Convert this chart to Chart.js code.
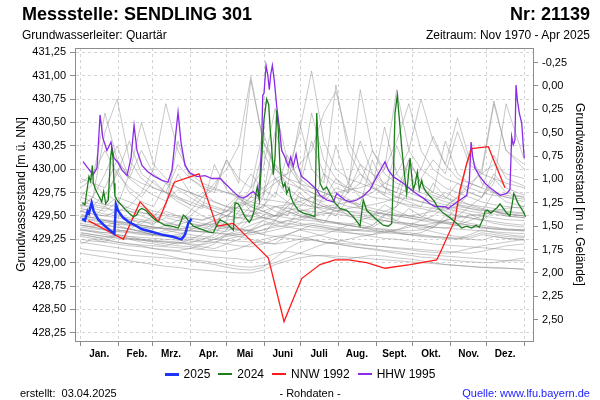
<!DOCTYPE html>
<html><head><meta charset="utf-8">
<script src="https://cdn.jsdelivr.net/npm/chart.js@4/dist/chart.umd.min.js"></script>
<style>
body{margin:0;width:600px;height:400px;position:relative;font-family:"Liberation Sans",Arial,sans-serif;background:#fff;overflow:hidden}
#c{position:absolute;left:0;top:0}
.t{position:absolute;white-space:nowrap;color:#000;line-height:1}
#legend{position:absolute;left:0;width:600px;top:367px;display:flex;justify-content:center;gap:8px;font-size:12px;line-height:14px;color:#000}
#legend .it{display:flex;align-items:center}
#legend .sw{display:inline-block;width:14px;margin-right:5px}
</style></head><body>
<canvas id="c" width="600" height="400"></canvas>
<div class="t" style="left:22px;top:5px;font-size:18px;font-weight:bold">Messstelle: SENDLING 301</div>
<div class="t" style="right:10px;top:5px;font-size:18px;font-weight:bold">Nr: 21139</div>
<div class="t" style="left:22px;top:29px;font-size:12px">Grundwasserleiter: Quartär</div>
<div class="t" style="right:10px;top:29px;font-size:12px">Zeitraum: Nov 1970 - Apr 2025</div>
<div id="legend"><span class="it"><span class="sw" style="height:3px;background:#1f35ff"></span>2025</span><span class="it"><span class="sw" style="height:1.5px;background:#1b7d1b"></span>2024</span><span class="it"><span class="sw" style="height:1.5px;background:#ff1a1a"></span>NNW 1992</span><span class="it"><span class="sw" style="height:1.5px;background:#8b2be8"></span>HHW 1995</span></div>
<div class="t" style="left:20px;top:388px;font-size:11px">erstellt:&nbsp;&nbsp;03.04.2025</div>
<div class="t" style="left:20px;width:580px;text-align:center;top:388px;font-size:11px">- Rohdaten -</div>
<div class="t" style="right:10px;top:388px;font-size:11px;color:#1a1aff">Quelle: www.lfu.bayern.de</div>
<script>
// ---- axis definitions ----
const monthNames = ['Jan.','Feb.','Mrz.','Apr.','Mai','Juni','Juli','Aug.','Sept.','Okt.','Nov.','Dez.'];
const monthStarts = [0,31,59,90,120,151,181,212,243,273,304,334,365];
const leftTicks = [428.25,428.5,428.75,429,429.25,429.5,429.75,430,430.25,430.5,430.75,431,431.25];
const rightTicks = [-0.25,0,0.25,0.5,0.75,1,1.25,1.5,1.75,2,2.25,2.5];
const groundLevel = 430.89;

// ---- 2025 ----
const days2025 = [1.3,3.5,5.7,6.8,9,10.7,14.5,20,25.5,27.7,29,31,35,39,44.7,50,58.4,66.6,75,80,83,85.8,88.5,91.3];
const vals2025 = [429.47,429.45,429.55,429.53,429.64,429.55,429.46,429.39,429.33,429.31,429.62,429.55,429.48,429.44,429.40,429.36,429.33,429.30,429.28,429.26,429.25,429.30,429.42,429.47];

// ---- 2024 ----
const days2024 = [1.3,3.5,5.2,6.8,8.2,9.6,10.4,12.3,15,17.3,18.9,20.6,22.7,24.4,25.5,26.6,27.4,28.2,30.4,33.2,36.5,40.6,43.3,46,48,50.2,53.5,57,61.1,65.3,69.4,74.9,80.3,82.5,84.4,86.4,89.1,92.7,96.8,100.9,105,109.1,111.9,114.6,117.3,120.1,125.6,127,129.7,132.5,135.2,138.7,140.7,142.6,144.2,145.3,147,148.9,150.8,153,154.7,155.8,157.1,158.5,159.9,161.3,162.6,164,165.4,166.7,168.1,169.5,171.4,172.8,174.9,179,183.2,188.7,192.8,194.2,195.5,196.9,199.6,202.4,205.1,209.2,213.4,218.9,224.3,228.4,229.8,232.5,235.3,239.4,243.6,249,253.1,255.9,257.2,258.6,260.5,262.2,264.1,266,268.2,271,272.4,273.7,275.3,277,278.6,280.6,281.9,284.1,287.4,290.7,294.3,298.4,303.9,309.4,313.5,317.6,321.7,325.3,328,330.8,332.7,334.6,337.4,340.1,342.8,345,347.7,350.5,353.2,355.2,356.3,357.6,359.3,362,364.8,366];
const vals2024 = [429.64,429.62,429.78,429.92,429.87,430.04,429.85,429.78,429.71,429.65,429.76,429.63,429.67,430.10,430.22,430.12,429.85,429.71,429.66,429.62,429.57,429.52,429.49,429.51,429.56,429.58,429.56,429.51,429.46,429.43,429.40,429.39,429.37,429.44,429.51,429.49,429.44,429.39,429.37,429.35,429.33,429.32,429.40,429.46,429.44,429.42,429.35,429.64,429.63,429.56,429.49,429.43,429.47,429.55,429.74,429.81,429.67,430.10,430.53,430.75,430.69,430.45,430.24,429.94,430.13,430.63,430.42,430.03,429.88,429.81,429.85,429.74,429.80,429.71,429.64,429.56,429.53,429.51,429.49,430.60,430.24,429.85,429.78,429.81,429.74,429.64,429.58,429.56,429.49,429.42,429.39,429.67,429.56,429.51,429.46,429.40,429.39,429.42,429.88,430.60,430.79,430.53,430.24,429.99,429.74,430.12,429.92,429.78,429.85,429.97,429.78,429.88,429.81,429.76,429.71,429.66,429.58,429.53,429.48,429.42,429.37,429.39,429.37,429.40,429.38,429.46,429.55,429.56,429.53,429.56,429.59,429.63,429.58,429.53,429.50,429.64,429.74,429.71,429.65,429.59,429.53,429.49];

// ---- NNW 1992 ----
const daysNNW = [6.3,35.1,48.8,63.9,77,97.3,111.9,125.6,154.4,167.3,181.8,196.9,209.2,220.2,235.3,250.4,271,292.9,295.6,308,312.1,317.6,321.7,335.4,349.1];
const valsNNW = [429.45,429.25,429.65,429.44,429.86,429.95,429.39,429.42,429.05,428.37,428.83,428.98,429.03,429.03,429.00,428.94,428.98,429.03,429.10,429.46,429.78,430.06,430.22,430.24,429.80];

// ---- HHW 1995 ----
const daysHHW = [1.9,6,10.1,13.4,15.9,18.3,21.6,24.9,27.4,30.7,34,38.1,41.4,43.9,46.3,50.4,55.4,61.1,66.9,71.8,75.1,78.4,80.1,82.5,85.8,89.9,95.7,102.3,108,114.8,120.1,125.6,129.7,133.8,136.8,139.3,142,143.4,146.1,147.5,148.9,149.8,150.8,152.5,153.9,155.2,156.3,157.7,159.3,161.3,163.4,165.4,168.1,170.8,172.8,174.9,177.2,179,181.8,186,190.1,194.2,196.9,202.4,207.9,210.6,213.4,217.5,221.6,227.1,232.5,238,243.6,250.4,253.1,257.2,265.4,273.7,281.9,287.4,291.5,299.8,302.5,306.6,312.1,317.6,319.8,321.2,322.6,324.4,328.5,332.7,336.8,340.9,345,350.5,353.2,354.6,355.9,357.3,358.2,359.3,360.9,362.9,364.2,365];
const valsHHW = [430.08,430.01,429.94,430.01,430.58,430.33,430.20,430.29,430.12,430.07,429.99,429.93,430.12,430.47,430.20,430.04,429.97,429.92,429.88,429.86,429.99,430.40,430.61,430.29,430.04,429.96,429.92,429.93,429.90,429.90,429.83,429.76,429.71,429.69,429.71,429.74,429.76,429.74,429.71,429.92,430.28,430.79,430.81,431.11,431.01,430.85,431.01,431.11,430.95,430.67,430.45,430.20,430.13,430.03,430.13,430.03,430.16,430.03,429.92,429.88,429.83,429.78,429.72,429.67,429.65,429.74,429.71,429.67,429.65,429.67,429.71,429.78,429.92,430.08,429.99,429.92,429.85,429.76,429.69,429.63,429.60,429.60,429.58,429.62,429.67,429.72,429.88,430.29,430.13,430.01,429.92,429.85,429.80,429.76,429.72,429.74,429.78,430.35,430.26,430.31,430.90,430.74,430.60,430.49,430.24,430.12];

// ---- other years 1971-2023 (grey), sampled every ~10 days ----
const greyDays = [0,10,20,30,40,50,60,70,80,90,100,110,120,130,140,150,160,170,180,190,200,210,220,230,240,250,260,270,280,290,300,310,320,330,340,350,365];
const g01 = [429.30,429.28,429.25,429.22,429.20,429.18,429.15,429.13,429.12,429.10,429.08,429.06,429.05,429.04,429.02,429.05,429.10,429.12,429.10,429.08,429.07,429.05,429.04,429.06,429.08,429.07,429.05,429.04,429.02,429.00,428.98,428.97,428.96,428.95,428.95,428.94,428.93];
const g02 = [429.22,429.20,429.18,429.16,429.14,429.12,429.10,429.08,429.05,429.02,429.00,428.98,428.95,428.93,428.92,428.95,429.05,429.15,429.22,429.25,429.22,429.20,429.18,429.16,429.15,429.13,429.12,429.10,429.09,429.08,429.07,429.06,429.05,429.04,429.03,429.02,429.02];
const g03 = [429.35,429.33,429.30,429.28,429.26,429.24,429.22,429.20,429.18,429.17,429.15,429.20,429.30,429.28,429.25,429.22,429.20,429.30,429.35,429.32,429.28,429.25,429.22,429.20,429.18,429.17,429.15,429.14,429.12,429.11,429.10,429.12,429.15,429.18,429.20,429.22,429.25];
const g04 = [429.55,429.60,429.75,429.65,429.55,429.50,429.45,429.55,429.50,429.42,429.38,429.35,429.33,429.40,429.55,429.48,429.45,429.60,429.52,429.48,429.45,429.42,429.40,429.38,429.36,429.35,429.33,429.32,429.30,429.28,429.27,429.26,429.30,429.35,429.32,429.30,429.28];
const g05 = [429.80,429.90,430.60,430.10,429.90,430.20,429.95,429.85,429.80,429.75,429.70,429.80,430.10,429.90,429.80,430.40,430.00,429.85,429.80,430.30,429.95,429.85,429.80,429.75,429.70,429.68,429.65,429.62,429.60,429.58,429.56,429.60,429.75,429.70,429.90,429.75,429.70];
const g06 = [429.45,429.42,429.40,429.38,429.36,429.33,429.30,429.28,429.26,429.25,429.23,429.22,429.20,429.18,429.17,429.20,429.25,429.30,429.35,429.40,429.38,429.35,429.32,429.30,429.28,429.26,429.25,429.23,429.22,429.20,429.19,429.18,429.17,429.16,429.15,429.14,429.13];
const g07 = [429.30,429.28,429.26,429.30,429.28,429.25,429.23,429.22,429.20,429.25,429.30,429.40,429.60,429.55,429.70,430.20,429.90,429.80,430.50,430.00,429.85,430.90,430.20,429.95,429.85,429.80,429.75,429.70,429.65,429.62,429.58,429.55,429.52,429.50,429.48,429.46,429.45];
const g08 = [429.60,429.70,430.40,430.75,430.10,429.90,429.80,429.75,429.70,429.65,429.60,429.55,429.50,429.48,429.45,429.50,429.60,429.55,429.50,429.48,429.45,429.43,429.40,429.38,429.35,429.33,429.32,429.30,429.28,429.27,429.26,429.25,429.28,429.32,429.30,429.28,429.27];
const g09 = [429.40,429.38,429.35,429.33,429.35,429.45,429.40,429.60,430.30,429.90,429.80,429.75,430.10,429.85,430.95,430.30,430.00,429.90,429.80,429.75,429.70,429.65,429.60,429.58,429.55,429.52,429.50,429.48,429.46,429.45,429.43,429.42,429.40,429.38,429.37,429.36,429.35];
const g10 = [429.25,429.23,429.22,429.20,429.18,429.17,429.15,429.14,429.13,429.15,429.20,429.25,429.30,429.35,429.40,429.45,429.50,429.55,429.60,429.70,429.65,429.80,429.75,429.85,430.20,430.00,430.85,430.20,430.00,429.90,429.80,429.75,429.70,429.65,429.62,429.60,429.58];
const g11 = [429.50,429.48,429.45,429.43,429.40,429.38,429.36,429.40,429.45,429.42,429.40,429.38,429.36,429.35,429.34,429.40,429.45,429.42,429.40,429.38,429.36,429.35,429.34,429.35,429.40,429.50,429.60,429.75,429.90,430.10,429.95,430.40,430.05,429.95,430.70,430.20,430.00];
const g12 = [429.65,429.62,429.60,429.70,429.65,429.60,429.55,429.52,429.50,429.48,429.45,429.50,429.55,429.70,429.60,429.55,429.50,429.60,429.70,429.65,429.60,429.55,429.52,429.50,429.48,429.45,429.43,429.42,429.40,429.38,429.37,429.40,429.45,429.50,429.55,429.52,429.50];
const g13 = [429.45,429.43,429.40,429.38,429.36,429.34,429.32,429.30,429.28,429.35,429.40,429.45,429.50,429.60,429.70,429.80,429.90,429.95,430.40,431.05,430.30,430.00,429.90,429.85,429.80,429.75,429.70,429.68,429.65,429.62,429.60,429.58,429.55,429.53,429.52,429.50,429.48];
const g14 = [429.15,429.13,429.12,429.10,429.08,429.07,429.06,429.05,429.04,429.03,429.02,429.00,428.98,428.96,428.95,428.97,429.00,429.05,429.10,429.15,429.20,429.22,429.25,429.28,429.30,429.32,429.35,429.38,429.40,429.42,429.45,429.48,429.50,429.52,429.55,429.58,429.60];
const g15 = [429.55,429.52,429.50,429.55,429.60,429.75,430.00,430.70,430.20,429.95,429.85,429.80,429.75,429.70,429.65,429.62,429.60,429.58,429.56,429.55,429.53,429.52,429.50,429.48,429.46,429.45,429.43,429.42,429.40,429.38,429.37,429.36,429.35,429.34,429.33,429.32,429.31];
const g16 = [429.35,429.33,429.32,429.30,429.28,429.27,429.26,429.25,429.24,429.23,429.22,429.25,429.28,429.30,429.32,429.35,429.38,429.40,429.45,429.50,429.55,429.60,429.75,430.85,430.20,429.95,429.85,429.80,429.75,429.70,429.65,429.62,429.60,429.57,429.55,429.52,429.50];
const g17 = [429.70,429.65,429.62,429.60,429.95,430.50,430.05,429.90,429.80,429.75,429.70,429.65,429.60,429.58,429.55,429.52,429.50,429.48,429.46,429.45,429.43,429.42,429.40,429.38,429.37,429.36,429.35,429.34,429.35,429.40,429.45,429.50,429.60,429.70,429.85,430.70,430.10];
const g18 = [429.40,429.38,429.36,429.35,429.33,429.32,429.30,429.32,429.35,429.38,429.40,429.45,429.50,429.60,429.80,430.00,430.65,430.10,429.90,429.80,429.75,429.70,429.65,429.60,429.55,429.52,429.50,429.48,429.45,429.43,429.42,429.40,429.38,429.37,429.36,429.35,429.34];
const g19 = [429.28,429.26,429.24,429.22,429.20,429.19,429.18,429.17,429.16,429.15,429.14,429.13,429.12,429.15,429.20,429.25,429.28,429.30,429.28,429.25,429.22,429.20,429.18,429.16,429.14,429.12,429.10,429.08,429.06,429.05,429.03,429.02,429.01,429.00,429.00,429.02,429.05];
const g20 = [429.38,429.36,429.35,429.33,429.32,429.30,429.29,429.28,429.30,429.35,429.33,429.32,429.30,429.32,429.35,429.40,429.42,429.45,429.48,429.50,429.52,429.55,429.58,429.60,429.62,429.65,429.70,429.80,430.00,430.35,430.05,430.55,430.10,429.95,429.90,429.85,429.80];
const g21 = [429.58,429.70,429.62,430.00,429.75,429.65,429.60,429.85,429.70,429.62,429.58,430.05,429.78,429.68,429.62,429.58,429.90,429.72,429.65,429.60,429.95,429.75,429.68,429.62,430.10,429.80,429.70,429.65,429.60,429.85,429.70,429.62,429.58,429.55,429.75,429.65,429.60];
const g22 = [429.48,429.46,429.45,429.43,429.42,429.40,429.38,429.37,429.36,429.38,429.40,429.42,429.45,429.48,429.50,429.55,429.60,429.62,429.65,429.70,429.72,429.75,429.78,429.80,429.85,430.00,430.30,430.70,430.20,430.00,429.90,429.85,429.80,429.75,429.72,429.70,429.68];
const g23 = [429.85,429.95,430.20,429.95,430.30,429.95,429.85,429.75,429.65,429.58,429.50,429.45,429.40,429.36,429.33,429.30,429.28,429.26,429.25,429.24,429.22,429.21,429.20,429.19,429.18,429.17,429.16,429.15,429.14,429.13,429.12,429.11,429.10,429.12,429.15,429.18,429.20];
const g24 = [429.50,429.48,429.46,429.44,429.42,429.40,429.38,429.36,429.40,429.55,429.70,429.85,430.00,430.25,430.99,430.30,430.05,429.90,429.85,429.80,429.75,429.70,429.65,429.62,429.58,429.55,429.52,429.50,429.48,429.46,429.44,429.42,429.40,429.38,429.36,429.35,429.34];
const g25 = [429.32,429.30,429.28,429.26,429.25,429.24,429.23,429.22,429.21,429.20,429.19,429.22,429.25,429.28,429.30,429.32,429.35,429.38,429.40,429.42,429.40,429.38,429.36,429.35,429.34,429.33,429.35,429.40,429.45,429.50,429.60,429.70,429.80,430.00,430.73,430.20,430.05];
const g26 = [429.62,429.60,429.58,429.56,429.55,429.53,429.52,429.50,429.48,429.47,429.46,429.50,429.55,429.60,429.65,429.75,429.85,429.95,430.05,430.20,430.60,430.83,430.30,430.05,429.95,429.85,429.80,429.75,429.70,429.65,429.62,429.60,429.58,429.56,429.55,429.54,429.52];
const g27 = [429.10,429.08,429.06,429.04,429.02,429.00,428.98,428.96,428.95,428.93,428.92,428.91,428.90,428.89,428.89,428.92,428.98,429.02,429.05,429.07,429.08,429.07,429.06,429.05,429.04,429.03,429.02,429.01,429.00,428.99,428.98,428.97,428.96,428.95,428.94,428.94,428.93];
const g28 = [429.42,429.40,429.38,429.45,429.42,429.40,429.38,429.36,429.35,429.34,429.33,429.32,429.31,429.30,429.32,429.35,429.40,429.45,429.42,429.40,429.38,429.36,429.35,429.34,429.33,429.32,429.31,429.30,429.32,429.38,429.45,429.60,430.20,429.85,429.75,429.70,429.65];
const g29 = [429.70,429.85,429.72,429.95,429.80,429.70,429.88,429.75,429.68,429.62,429.75,429.65,429.60,429.72,429.95,429.78,429.70,430.15,429.85,429.75,429.68,429.90,429.75,430.05,429.82,429.72,430.25,429.90,429.80,429.72,429.68,429.85,429.75,429.70,429.95,429.80,429.72];
const g30 = [429.52,429.48,429.60,429.52,429.46,429.42,429.50,429.44,429.40,429.37,429.35,429.42,429.38,429.35,429.48,429.62,429.55,429.50,429.75,429.62,429.55,429.50,429.68,429.58,429.52,429.48,429.45,429.58,429.50,429.45,429.42,429.40,429.52,429.46,429.42,429.40,429.38];
const g31 = [429.20,429.25,429.22,429.30,429.25,429.22,429.20,429.18,429.22,429.19,429.17,429.15,429.20,429.25,429.35,429.30,429.45,429.40,429.55,429.48,429.42,429.60,429.50,429.45,429.40,429.52,429.45,429.40,429.36,429.33,429.30,429.28,429.26,429.30,429.28,429.26,429.24];
const g32 = [429.75,429.70,429.95,430.25,429.90,429.80,429.72,429.66,429.78,429.70,429.62,429.58,429.55,429.65,429.60,429.72,430.05,429.80,429.70,429.65,429.60,429.58,429.55,429.52,429.50,429.62,429.55,429.50,429.48,429.60,429.55,429.50,429.48,429.45,429.55,429.50,429.48];
const g33 = [429.40,429.38,429.45,429.40,429.36,429.33,429.30,429.35,429.32,429.30,429.28,429.27,429.35,429.55,429.48,429.70,430.40,430.05,429.85,430.60,430.10,429.90,429.80,429.95,429.80,429.72,429.65,429.60,429.58,429.55,429.52,429.50,429.48,429.46,429.44,429.42,429.40];
const g34 = [429.55,429.52,429.50,429.48,429.46,429.44,429.42,429.48,429.45,429.50,429.62,429.55,429.50,429.48,429.60,429.55,429.50,429.65,429.58,429.52,429.70,430.25,429.85,429.70,429.80,430.45,429.95,429.80,429.70,429.65,429.75,429.68,429.62,429.58,429.55,429.52,429.50];
const g35 = [429.62,429.58,429.55,429.65,429.58,429.54,429.50,429.62,429.95,429.75,429.65,429.60,429.56,429.52,429.50,429.48,429.46,429.55,429.50,429.47,429.45,429.43,429.42,429.40,429.38,429.45,429.42,429.40,429.38,429.37,429.50,429.45,429.42,429.40,429.38,429.36,429.35];
const g36 = [429.32,429.30,429.28,429.27,429.26,429.25,429.24,429.23,429.22,429.21,429.25,429.30,429.45,429.70,429.55,429.60,429.75,429.65,429.80,429.70,429.62,429.58,429.85,430.30,429.95,429.80,429.75,430.10,429.85,429.75,429.70,429.65,429.62,429.60,429.58,429.55,429.53];
const g37 = [429.48,429.45,429.43,429.41,429.40,429.38,429.37,429.36,429.35,429.34,429.33,429.35,429.38,429.42,429.45,429.48,429.50,429.52,429.55,429.58,429.60,429.62,429.65,429.70,429.75,429.85,429.95,430.20,430.75,430.30,430.05,429.90,429.85,429.80,430.15,429.90,429.82];
const g38 = [429.58,429.55,429.52,429.50,429.48,429.46,429.44,429.42,429.40,429.45,429.42,429.40,429.38,429.36,429.35,429.45,429.40,429.38,429.36,429.35,429.34,429.33,429.32,429.31,429.30,429.35,429.32,429.30,429.29,429.28,429.27,429.26,429.25,429.24,429.28,429.26,429.25];
const g39 = [429.90,429.85,429.80,430.10,429.92,429.85,429.80,429.75,430.05,429.90,429.82,429.78,429.75,429.72,429.70,429.68,429.66,429.64,429.62,429.60,429.58,429.56,429.55,429.54,429.53,429.52,429.51,429.50,429.52,429.55,429.60,429.70,429.85,429.95,430.05,429.95,429.90];
const g40 = [429.36,429.34,429.32,429.35,429.33,429.31,429.30,429.29,429.28,429.27,429.26,429.25,429.24,429.23,429.22,429.21,429.20,429.22,429.25,429.28,429.30,429.35,429.40,429.45,429.50,429.55,429.60,430.10,429.85,429.75,430.30,429.95,429.85,429.80,429.75,429.72,429.70];
const greySeries = [g01,g02,g03,g04,g05,g06,g07,g08,g09,g10,g11,g12,g13,g14,g15,g16,g17,g18,g19,g20,g21,g22,g23,g24,g25,g26,g27,g28,g29,g30,g31,g32,g33,g34,g35,g36,g37,g38,g39,g40];

// ---- build chart ----
const pts = (d, v) => d.map((x, i) => ({x: x, y: v[i]}));
const yMin = 428.162, yMax = 431.296;
const fmt = v => Number(v).toFixed(2).replace('.', ',');
const lineDs = (label, d, v, color, w) => ({label, data: pts(d, v), borderColor: color, backgroundColor: color, borderWidth: w, pointRadius: 0, tension: 0, fill: false, yAxisID: 'y'});

const datasets = [
  lineDs('2025', days2025, vals2025, '#1f35ff', 2.5),
  lineDs('2024', days2024, vals2024, '#1b7d1b', 1.3),
  lineDs('NNW 1992', daysNNW, valsNNW, '#ff1a1a', 1.3),
  lineDs('HHW 1995', daysHHW, valsHHW, '#8b2be8', 1.3)
];
greySeries.forEach((g, i) => datasets.push(lineDs('grey' + i, greyDays, g, 'rgba(140,140,140,0.6)', 0.8)));

Chart.defaults.font.family = '"Liberation Sans", Arial, sans-serif';
Chart.defaults.color = '#000';

new Chart(document.getElementById('c'), {
  type: 'line',
  data: {datasets},
  options: {
    responsive: false, animation: false, devicePixelRatio: 1, events: [],
    layout: {padding: {top: 48, bottom: 37, left: 0, right: 0}},
    plugins: {legend: {display: false}, tooltip: {enabled: false}},
    scales: {
      x: {
        type: 'linear', position: 'bottom', min: -4.69, max: 372.16,
        afterBuildTicks: s => { s.ticks = monthStarts.map(v => ({value: v})); },
        afterFit: s => { s.height = 22; },
        ticks: {autoSkip: false, maxRotation: 0, labelOffset: 18.5, padding: 2, font: {size: 10, weight: 'bold'},
          callback: (v, i) => i < 12 ? monthNames[i] : ''},
        grid: {color: '#d4d4d4', lineWidth: 1, drawTicks: true, tickLength: 5, tickColor: '#8c8c8c'},
        border: {display: true, color: '#8c8c8c', width: 1, dash: [3, 3]}
      },
      xTop: {
        type: 'linear', position: 'top', min: -4.69, max: 372.16,
        afterFit: s => { s.height = 0; },
        ticks: {display: false},
        grid: {display: false, drawTicks: false},
        border: {display: true, color: '#8c8c8c', width: 1}
      },
      y: {
        type: 'linear', position: 'left', min: yMin, max: yMax,
        afterBuildTicks: s => { s.ticks = leftTicks.map(v => ({value: v})); },
        afterFit: s => { s.width = 75; },
        ticks: {autoSkip: false, padding: 4, font: {size: 11}, callback: v => fmt(v)},
        grid: {color: '#d4d4d4', lineWidth: 1, drawTicks: true, tickLength: 5, tickColor: '#8c8c8c'},
        border: {display: true, color: '#8c8c8c', width: 1, dash: [3, 3]},
        title: {display: true, text: 'Grundwasserstand [m ü. NN]', font: {size: 12}, padding: {top: 14, bottom: 0}}
      },
      y2: {
        type: 'linear', position: 'right', reverse: true,
        min: groundLevel - yMax, max: groundLevel - yMin,
        afterBuildTicks: s => { s.ticks = rightTicks.map(v => ({value: v})); },
        afterFit: s => { s.width = 67; },
        ticks: {autoSkip: false, padding: 4, font: {size: 11}, callback: v => fmt(v)},
        grid: {drawOnChartArea: false, drawTicks: true, tickLength: 5, tickColor: '#8c8c8c'},
        border: {display: true, color: '#8c8c8c', width: 1},
        title: {display: true, text: 'Grundwasserstand [m u. Gelände]', font: {size: 12}, padding: {top: 13, bottom: 0}}
      }
    }
  }
});
</script>
</body></html>
